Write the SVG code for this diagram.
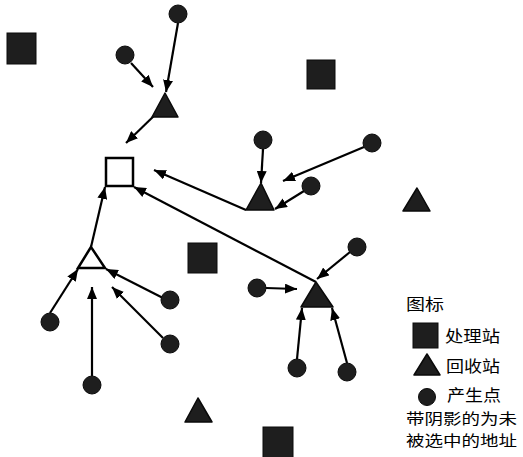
<svg xmlns="http://www.w3.org/2000/svg" width="523" height="457" viewBox="0 0 523 457">
<defs>
<style>
.sq{fill:#1e1e1e;stroke:#0a0a0a;stroke-width:1}
.tri{fill:#1e1e1e;stroke:#0a0a0a;stroke-width:1.5;stroke-linejoin:round}
.pt{fill:#1e1e1e;stroke:#0a0a0a;stroke-width:1}
.open{fill:#fff;stroke:#000;stroke-width:2.5}
.ln{stroke:#000;stroke-width:2.2;fill:none;marker-end:url(#ah)}
.lbl{font-family:"Noto Sans CJK SC","Noto Sans",sans-serif;font-size:16px;fill:#000}
.note{font-size:15px}
</style>
<marker id="ah" viewBox="0 0 12 10" refX="12" refY="5" markerWidth="12" markerHeight="10" markerUnits="userSpaceOnUse" orient="auto">
<path d="M0,0 L12,5 L0,10 z" fill="#000"/>
</marker>
</defs>
<rect width="523" height="457" fill="#fff"/>

<g id="connectors">
<line class="ln" x1="178" y1="23" x2="166" y2="92"/>
<line class="ln" x1="131" y1="63" x2="153" y2="87"/>
<line class="ln" x1="158" y1="112" x2="126" y2="143"/>
<line class="ln" x1="246" y1="210" x2="154" y2="170"/>
<line class="ln" x1="263" y1="149" x2="261" y2="183"/>
<line class="ln" x1="364" y1="147" x2="283" y2="181"/>
<line class="ln" x1="304" y1="191" x2="275" y2="209"/>
<line class="ln" x1="316" y1="282" x2="134" y2="187"/>
<line class="ln" x1="350" y1="252" x2="317" y2="279"/>
<line class="ln" x1="266" y1="288" x2="297" y2="289"/>
<line class="ln" x1="297" y1="359" x2="302" y2="308"/>
<line class="ln" x1="347" y1="363" x2="332" y2="308"/>
<line class="ln" x1="91" y1="247" x2="105" y2="187"/>
<line class="ln" x1="50" y1="313" x2="78" y2="269"/>
<line class="ln" x1="163" y1="298" x2="106" y2="269"/>
<line class="ln" x1="92" y1="376" x2="92" y2="287"/>
<line class="ln" x1="163" y1="338" x2="112" y2="287"/>
</g>

<g id="sq1"><rect class="sq" x="7" y="33" width="29" height="31"/></g>
<g id="sq2"><rect class="sq" x="307" y="60" width="28" height="29"/></g>
<g id="sq3"><rect class="sq" x="188" y="243" width="29" height="30"/></g>
<g id="sq4"><rect class="sq" x="263" y="427" width="30" height="32"/></g>
<g id="open-square"><rect class="open" x="106" y="158" width="27" height="28"/></g>

<g id="tri1"><polygon class="tri" points="165,93 152,117 178,117"/></g>
<g id="tri2"><polygon class="tri" points="261,183 246,210 274,210"/></g>
<g id="tri3"><polygon class="tri" points="417,188 403,211 430,211"/></g>
<g id="tri4"><polygon class="tri" points="316,282 301,307 333,307"/></g>
<g id="tri5"><polygon class="tri" points="198,398 185,422 212,422"/></g>
<g id="open-tri"><polygon points="91,247 78,268 105,268" fill="#fff" stroke="#000" stroke-width="2.5" stroke-linejoin="miter"/></g>

<g id="p1"><circle class="pt" cx="178" cy="14" r="9"/></g>
<g id="p2"><circle class="pt" cx="125" cy="55" r="9"/></g>
<g id="p3"><circle class="pt" cx="263" cy="140" r="9"/></g>
<g id="p4"><circle class="pt" cx="372" cy="143" r="9"/></g>
<g id="p5"><circle class="pt" cx="311" cy="186" r="9"/></g>
<g id="p6"><circle class="pt" cx="357" cy="247" r="9"/></g>
<g id="p7"><circle class="pt" cx="257" cy="288" r="9"/></g>
<g id="p8"><circle class="pt" cx="297" cy="368" r="9"/></g>
<g id="p9"><circle class="pt" cx="347" cy="372" r="9"/></g>
<g id="p10"><circle class="pt" cx="170" cy="300" r="9"/></g>
<g id="p11"><circle class="pt" cx="50" cy="322" r="9"/></g>
<g id="p12"><circle class="pt" cx="92" cy="385" r="9"/></g>
<g id="p13"><circle class="pt" cx="170" cy="344" r="9"/></g>

<g id="legend">
<text class="lbl" x="406" y="310" textLength="38" lengthAdjust="spacingAndGlyphs">图标</text>
<rect class="sq" x="413" y="323" width="25" height="25"/>
<text class="lbl" x="445" y="342" textLength="55" lengthAdjust="spacingAndGlyphs">处理站</text>
<polygon class="tri" points="427,354 414,375 440,375"/>
<text class="lbl" x="446" y="372" textLength="54" lengthAdjust="spacingAndGlyphs">回收站</text>
<circle class="pt" cx="427" cy="397" r="8.5"/>
<text class="lbl" x="447" y="401" textLength="54" lengthAdjust="spacingAndGlyphs">产生点</text>
<text class="lbl note" x="406" y="424" textLength="111" lengthAdjust="spacingAndGlyphs">带阴影的为未</text>
<text class="lbl note" x="406" y="446" textLength="111" lengthAdjust="spacingAndGlyphs">被选中的地址</text>
</g>
</svg>
